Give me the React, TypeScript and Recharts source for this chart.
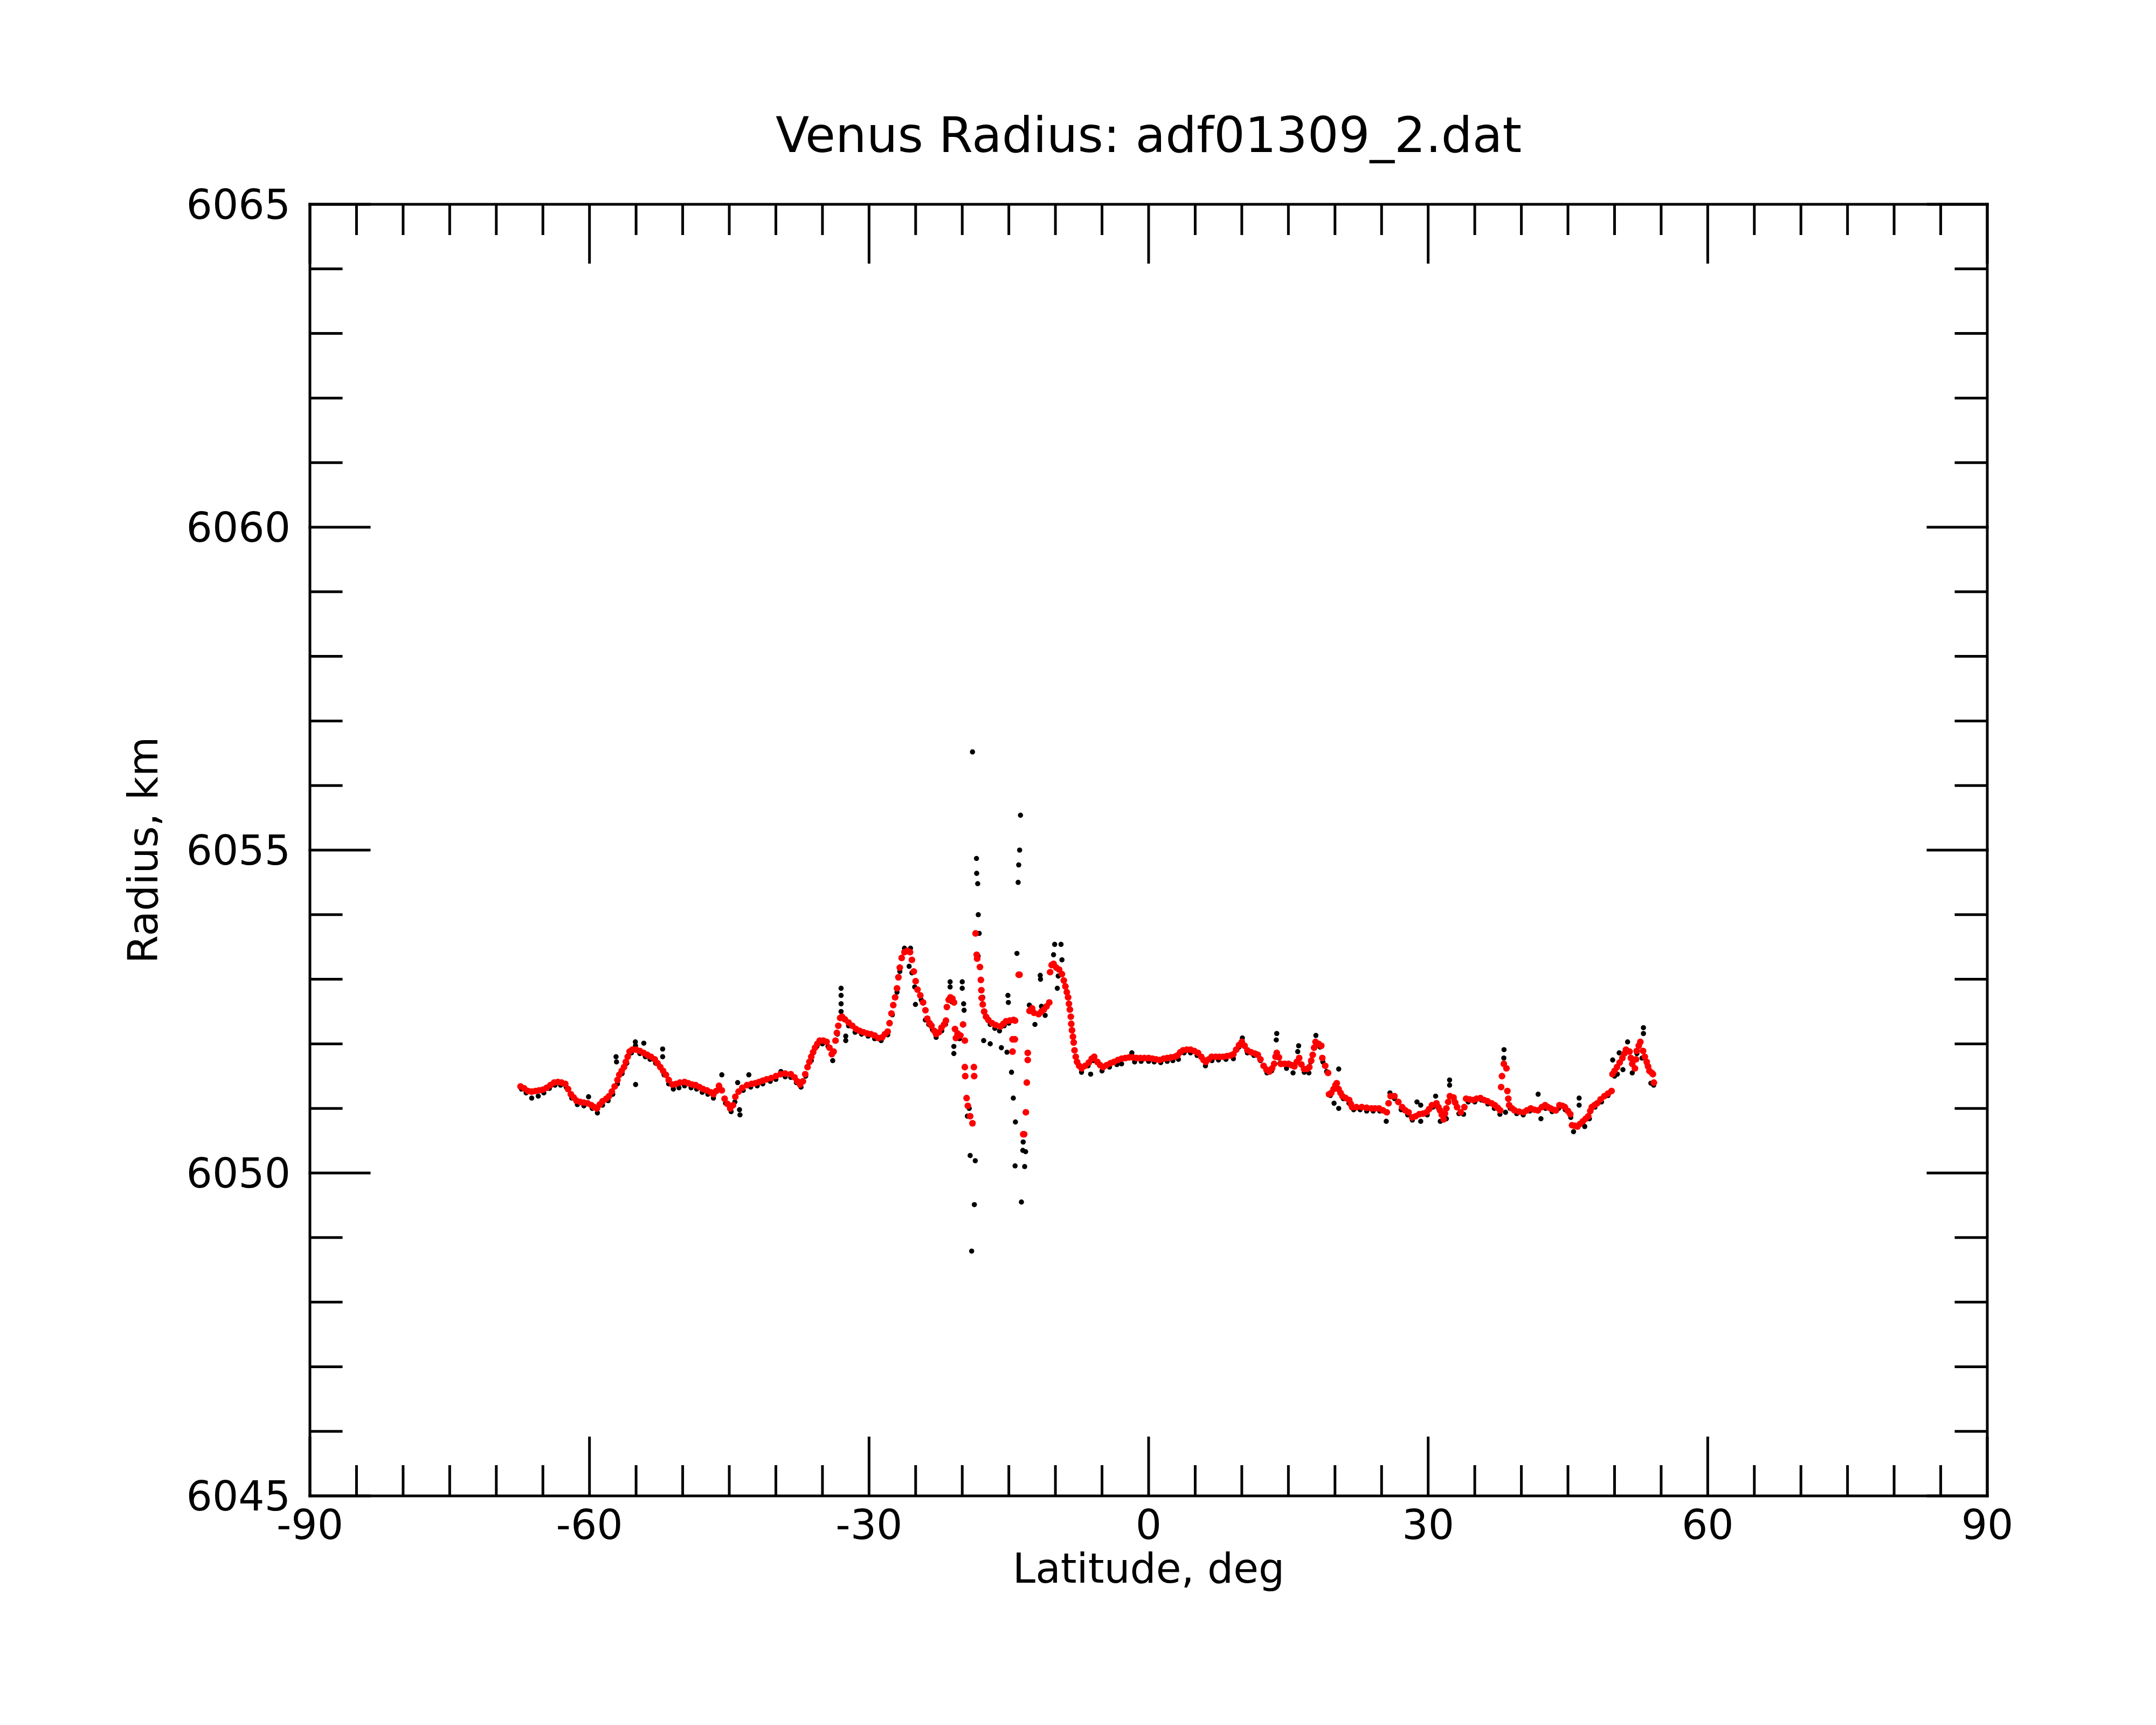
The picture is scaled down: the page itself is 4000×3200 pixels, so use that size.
import { ScatterChart, Scatter, XAxis, YAxis } from "recharts";

// Venus radius profile: [latitude deg, radius km]
const redTrace: [number, number][] = [
  [-67.4, 6051.34], [-67.0, 6051.31], [-66.6, 6051.27], [-66.2, 6051.26], [-65.8, 6051.27], [-65.4, 6051.28],
  [-65.0, 6051.29], [-64.6, 6051.32], [-64.2, 6051.36], [-63.8, 6051.4], [-63.4, 6051.41], [-63.0, 6051.4],
  [-62.6, 6051.38], [-62.3, 6051.3], [-62.0, 6051.22], [-61.7, 6051.17], [-61.4, 6051.12], [-61.0, 6051.1],
  [-60.6, 6051.09], [-60.2, 6051.08], [-59.8, 6051.05], [-59.5, 6051.02], [-59.2, 6051.0], [-58.9, 6051.06],
  [-58.6, 6051.11], [-58.2, 6051.15], [-57.9, 6051.19], [-57.6, 6051.26], [-57.3, 6051.34], [-57.0, 6051.44],
  [-56.8, 6051.52], [-56.55, 6051.58], [-56.3, 6051.64], [-56.1, 6051.72], [-55.9, 6051.8], [-55.7, 6051.88],
  [-55.4, 6051.91], [-55.0, 6051.91], [-54.6, 6051.89], [-54.2, 6051.86], [-53.8, 6051.83], [-53.4, 6051.8],
  [-53.0, 6051.76], [-52.7, 6051.7], [-52.4, 6051.64], [-52.1, 6051.58], [-51.8, 6051.52], [-51.5, 6051.44],
  [-51.1, 6051.37], [-50.7, 6051.38], [-50.3, 6051.4], [-49.8, 6051.41], [-49.4, 6051.39], [-49.0, 6051.37],
  [-48.6, 6051.36], [-48.2, 6051.33], [-47.8, 6051.3], [-47.4, 6051.28], [-47.0, 6051.25], [-46.7, 6051.22],
  [-46.4, 6051.27], [-46.1, 6051.35], [-45.8, 6051.28], [-45.5, 6051.15], [-45.2, 6051.07], [-44.9, 6051.0],
  [-44.6, 6051.05], [-44.35, 6051.18], [-44.0, 6051.26], [-43.6, 6051.32], [-43.1, 6051.36], [-42.6, 6051.38],
  [-42.2, 6051.39], [-41.8, 6051.41], [-41.4, 6051.43], [-41.0, 6051.45], [-40.5, 6051.47], [-40.0, 6051.5],
  [-39.5, 6051.53], [-39.0, 6051.54], [-38.4, 6051.53], [-38.0, 6051.48], [-37.7, 6051.42], [-37.4, 6051.37],
  [-37.1, 6051.42], [-36.85, 6051.53], [-36.6, 6051.64], [-36.4, 6051.72], [-36.2, 6051.8], [-36.0, 6051.87],
  [-35.8, 6051.94], [-35.55, 6052.0], [-35.3, 6052.05], [-34.9, 6052.05], [-34.55, 6052.03], [-34.25, 6051.94],
  [-34.0, 6051.84], [-33.8, 6051.88], [-33.6, 6052.05], [-33.45, 6052.17], [-33.3, 6052.28], [-33.1, 6052.4],
  [-32.9, 6052.42], [-32.6, 6052.38], [-32.2, 6052.33], [-31.8, 6052.28], [-31.4, 6052.23], [-31.0, 6052.2],
  [-30.6, 6052.18], [-30.2, 6052.16], [-29.8, 6052.15], [-29.4, 6052.13], [-29.0, 6052.09], [-28.6, 6052.1],
  [-28.3, 6052.15], [-28.0, 6052.19], [-27.8, 6052.32], [-27.6, 6052.47], [-27.4, 6052.6], [-27.2, 6052.72],
  [-27.0, 6052.86], [-26.85, 6053.03], [-26.7, 6053.18], [-26.5, 6053.33], [-26.2, 6053.42], [-25.9, 6053.44],
  [-25.6, 6053.42], [-25.4, 6053.3], [-25.2, 6053.12], [-25.0, 6052.97], [-24.8, 6052.84], [-24.5, 6052.75],
  [-24.2, 6052.64], [-23.95, 6052.52], [-23.75, 6052.39], [-23.5, 6052.32], [-23.3, 6052.28], [-23.0, 6052.2],
  [-22.8, 6052.15], [-22.5, 6052.18], [-22.23, 6052.25], [-21.95, 6052.3], [-21.75, 6052.36], [-21.65, 6052.57],
  [-21.45, 6052.68], [-21.27, 6052.72], [-21.05, 6052.7], [-20.88, 6052.64], [-20.78, 6052.23], [-20.68, 6052.09],
  [-20.5, 6052.16], [-20.2, 6052.13], [-19.91, 6052.3], [-19.72, 6052.05], [-19.72, 6051.64], [-19.68, 6051.5],
  [-19.53, 6051.16], [-19.4, 6051.04], [-19.15, 6050.88], [-18.9, 6050.77], [-18.75, 6051.64], [-18.72, 6051.5],
  [-18.57, 6053.71], [-18.45, 6053.38], [-18.4, 6053.32], [-18.1, 6053.19], [-18.0, 6052.99], [-17.95, 6052.83],
  [-17.9, 6052.71], [-17.8, 6052.61], [-17.65, 6052.5], [-17.45, 6052.42], [-17.2, 6052.37], [-16.8, 6052.32],
  [-16.4, 6052.29], [-15.9, 6052.27], [-15.6, 6052.31], [-15.3, 6052.35], [-14.9, 6052.36], [-14.5, 6052.37],
  [-14.33, 6052.36], [-14.6, 6052.07], [-14.35, 6052.07], [-14.6, 6051.88], [-13.94, 6053.07], [-13.85, 6053.07],
  [-12.97, 6051.86], [-12.97, 6051.75], [-13.07, 6051.4], [-13.17, 6050.94], [-13.46, 6050.6], [-13.35, 6050.6],
  [-12.78, 6052.51], [-12.5, 6052.55], [-12.3, 6052.48], [-11.8, 6052.46], [-11.5, 6052.5], [-11.24, 6052.53],
  [-10.95, 6052.58], [-10.66, 6052.64], [-10.57, 6053.11], [-10.4, 6053.22], [-10.2, 6053.24], [-9.9, 6053.18],
  [-9.6, 6053.15], [-9.3, 6053.08], [-9.1, 6052.98], [-8.93, 6052.89], [-8.78, 6052.8], [-8.64, 6052.72],
  [-8.55, 6052.62], [-8.45, 6052.53], [-8.35, 6052.42], [-8.3, 6052.31], [-8.22, 6052.21], [-8.12, 6052.11],
  [-8.04, 6052.02], [-7.95, 6051.9], [-7.82, 6051.8], [-7.68, 6051.72], [-7.45, 6051.66], [-7.19, 6051.62],
  [-6.8, 6051.66], [-6.42, 6051.71], [-6.1, 6051.77], [-5.84, 6051.8], [-5.5, 6051.72], [-5.2, 6051.67],
  [-4.88, 6051.64], [-4.5, 6051.67], [-4.1, 6051.7], [-3.72, 6051.72], [-3.3, 6051.75], [-2.9, 6051.77],
  [-2.5, 6051.78], [-2.1, 6051.79], [-1.7, 6051.79], [-1.3, 6051.78], [-0.89, 6051.78], [-0.45, 6051.78],
  [0.0, 6051.78], [0.4, 6051.77], [0.8, 6051.76], [1.18, 6051.75], [1.6, 6051.77], [2.0, 6051.78],
  [2.4, 6051.79], [2.8, 6051.8], [3.1, 6051.82], [3.4, 6051.87], [3.7, 6051.9], [4.1, 6051.91],
  [4.5, 6051.91], [4.9, 6051.89], [5.3, 6051.86], [5.65, 6051.8], [5.9, 6051.75], [6.14, 6051.72],
  [6.45, 6051.76], [6.76, 6051.8], [7.2, 6051.8], [7.6, 6051.8], [8.0, 6051.8], [8.4, 6051.81],
  [8.8, 6051.82], [9.1, 6051.84], [9.4, 6051.91], [9.7, 6051.98], [10.0, 6052.03], [10.3, 6051.97],
  [10.6, 6051.9], [11.0, 6051.87], [11.4, 6051.85], [11.72, 6051.83], [12.0, 6051.76], [12.34, 6051.66],
  [12.65, 6051.6], [12.96, 6051.57], [13.25, 6051.62], [13.47, 6051.69], [13.62, 6051.8], [13.75, 6051.86],
  [13.99, 6051.79], [14.2, 6051.69], [14.6, 6051.69], [15.02, 6051.69], [15.35, 6051.67], [15.64, 6051.65],
  [15.9, 6051.72], [16.16, 6051.78], [16.4, 6051.68], [16.68, 6051.61], [17.0, 6051.61], [17.25, 6051.64],
  [17.45, 6051.74], [17.61, 6051.83], [17.76, 6051.94], [17.91, 6052.03], [18.25, 6052.0], [18.53, 6051.97],
  [18.64, 6051.78], [18.95, 6051.66], [19.26, 6051.55], [19.36, 6051.22], [19.6, 6051.24], [19.85, 6051.3],
  [20.05, 6051.36], [20.19, 6051.39], [20.39, 6051.3], [20.6, 6051.24], [20.8, 6051.19], [21.15, 6051.16],
  [21.53, 6051.13], [21.7, 6051.07], [21.84, 6051.02], [22.3, 6051.02], [22.87, 6051.02], [23.4, 6051.01],
  [23.91, 6051.0], [24.3, 6051.0], [24.73, 6051.0], [25.15, 6050.97], [25.56, 6050.94], [25.75, 6051.08],
  [25.97, 6051.19], [26.38, 6051.19], [26.8, 6051.1], [27.21, 6051.02], [27.55, 6050.97], [27.9, 6050.94],
  [28.28, 6050.86], [28.66, 6050.88], [29.05, 6050.91], [29.45, 6050.92], [29.83, 6050.94], [30.1, 6050.99],
  [30.41, 6051.05], [30.89, 6051.08], [31.1, 6051.02], [31.27, 6050.97], [31.47, 6050.9], [31.66, 6050.83],
  [31.8, 6050.92], [31.95, 6051.0], [32.15, 6051.1], [32.33, 6051.19], [32.72, 6051.17], [32.9, 6051.09],
  [33.1, 6051.02], [33.49, 6050.94], [33.88, 6051.02], [34.07, 6051.15], [34.45, 6051.14], [34.84, 6051.13],
  [35.2, 6051.15], [35.61, 6051.16], [36.0, 6051.13], [36.38, 6051.11], [36.8, 6051.08], [37.15, 6051.05],
  [37.45, 6051.01], [37.73, 6050.97], [37.83, 6051.33], [37.92, 6051.5], [38.12, 6051.69], [38.4, 6051.62],
  [38.5, 6051.27], [38.6, 6051.15], [38.69, 6051.05], [39.0, 6051.0], [39.27, 6050.97], [39.75, 6050.95],
  [40.24, 6050.94], [40.6, 6050.97], [41.01, 6051.0], [41.4, 6050.98], [41.78, 6050.97], [42.2, 6051.02],
  [42.55, 6051.05], [42.85, 6051.02], [43.13, 6051.0], [43.45, 6050.98], [43.71, 6050.97], [44.09, 6051.05],
  [44.4, 6051.04], [44.67, 6051.02], [45.0, 6050.96], [45.25, 6050.91], [45.44, 6050.74], [45.75, 6050.73],
  [46.02, 6050.72], [46.3, 6050.76], [46.6, 6050.8], [46.9, 6050.84], [47.18, 6050.88], [47.4, 6050.96],
  [47.56, 6051.02], [47.85, 6051.05], [48.14, 6051.08], [48.5, 6051.14], [48.91, 6051.19], [49.3, 6051.23],
  [49.68, 6051.27], [49.78, 6051.53], [50.0, 6051.58], [50.26, 6051.64], [50.55, 6051.71], [50.84, 6051.78],
  [51.05, 6051.85], [51.23, 6051.91], [51.61, 6051.88], [51.75, 6051.78], [51.9, 6051.69], [52.19, 6051.62],
  [52.3, 6051.76], [52.38, 6051.89], [52.6, 6051.97], [52.77, 6052.03], [53.06, 6051.89], [53.25, 6051.8],
  [53.45, 6051.72], [53.6, 6051.65], [53.74, 6051.58], [54.0, 6051.55], [54.12, 6051.53], [54.22, 6051.4],
];

const blackTrace: [number, number][] = [
  [-67.3, 6051.3], [-66.8, 6051.24], [-66.2, 6051.16], [-65.5, 6051.19], [-64.9, 6051.24], [-64.3, 6051.31],
  [-63.7, 6051.36], [-63.1, 6051.36], [-62.5, 6051.33], [-61.9, 6051.16], [-61.3, 6051.06], [-60.6, 6051.04],
  [-60.1, 6051.18], [-59.7, 6051.0], [-59.15, 6050.93], [-58.6, 6051.05], [-58.0, 6051.12], [-57.5, 6051.22],
  [-57.15, 6051.8], [-57.1, 6051.72], [-57.0, 6051.38], [-56.5, 6051.54], [-56.0, 6051.7], [-55.5, 6051.86],
  [-55.08, 6052.03], [-55.06, 6051.97], [-55.05, 6051.37], [-54.6, 6051.85], [-54.17, 6052.01], [-54.0, 6051.8],
  [-53.5, 6051.76], [-52.9, 6051.7], [-52.15, 6051.92], [-52.15, 6051.8], [-52.0, 6051.52], [-51.5, 6051.38],
  [-51.0, 6051.3], [-50.4, 6051.32], [-49.8, 6051.35], [-49.1, 6051.32], [-48.5, 6051.3], [-47.9, 6051.25],
  [-47.3, 6051.22], [-46.7, 6051.16], [-46.1, 6051.3], [-45.8, 6051.52], [-45.4, 6051.08], [-44.8, 6050.95],
  [-44.4, 6051.1], [-44.1, 6051.4], [-43.9, 6050.98], [-43.85, 6050.9], [-43.5, 6051.28], [-42.9, 6051.52],
  [-42.7, 6051.33], [-42.0, 6051.35], [-41.4, 6051.38], [-40.6, 6051.42], [-40.0, 6051.45], [-39.46, 6051.57],
  [-39.0, 6051.49], [-38.4, 6051.48], [-37.8, 6051.4], [-37.3, 6051.33], [-36.8, 6051.5], [-36.2, 6051.74],
  [-35.6, 6051.96], [-35.0, 6052.0], [-34.4, 6051.96], [-33.9, 6051.74], [-33.4, 6052.15], [-33.0, 6052.5],
  [-33.0, 6052.62], [-33.0, 6052.75], [-33.0, 6052.86], [-32.5, 6052.12], [-32.5, 6052.05], [-32.2, 6052.28],
  [-31.5, 6052.18], [-30.8, 6052.15], [-30.1, 6052.12], [-29.4, 6052.08], [-28.7, 6052.05], [-28.0, 6052.14],
  [-27.5, 6052.45], [-27.0, 6052.8], [-26.7, 6053.12], [-26.2, 6053.48], [-25.55, 6053.48], [-25.7, 6053.2],
  [-25.4, 6053.1], [-25.1, 6052.88], [-25.02, 6052.61], [-24.4, 6052.68], [-23.96, 6052.37], [-23.6, 6052.3],
  [-23.2, 6052.22], [-22.8, 6052.1], [-22.2, 6052.2], [-21.8, 6052.3], [-21.3, 6052.96], [-21.3, 6052.88],
  [-21.1, 6052.65], [-20.9, 6051.96], [-20.9, 6051.85], [-20.6, 6052.12], [-20.3, 6052.08], [-20.0, 6052.96],
  [-20.0, 6052.86], [-19.85, 6052.62], [-19.8, 6052.52], [-19.45, 6050.88], [-19.25, 6051.0], [-17.99, 6052.71],
  [-17.8, 6052.72], [-17.5, 6052.42], [-17.0, 6052.3], [-16.5, 6052.24], [-16.0, 6052.2], [-15.5, 6052.28],
  [-15.0, 6052.32], [-17.7, 6052.05], [-17.0, 6052.0], [-15.8, 6051.94], [-15.2, 6051.87], [-15.1, 6052.75],
  [-15.05, 6052.64], [-12.8, 6052.6], [-12.2, 6052.3], [-11.63, 6053.06], [-11.6, 6053.0], [-11.5, 6052.58],
  [-11.1, 6052.44], [-10.08, 6053.54], [-9.4, 6053.54], [-10.2, 6053.38], [-9.3, 6053.3], [-9.7, 6053.05],
  [-9.8, 6052.86], [-8.3, 6052.3], [-7.2, 6051.56], [-6.5, 6051.66], [-6.22, 6051.53], [-5.9, 6051.74],
  [-5.0, 6051.58], [-4.2, 6051.64], [-3.4, 6051.68], [-2.9, 6051.69], [-1.8, 6051.86], [-1.5, 6051.72],
  [-0.8, 6051.73], [0.0, 6051.73], [0.6, 6051.72], [1.3, 6051.71], [2.0, 6051.73], [2.6, 6051.74],
  [3.2, 6051.76], [3.8, 6051.86], [4.5, 6051.86], [5.2, 6051.82], [6.1, 6051.66], [6.8, 6051.74],
  [7.5, 6051.75], [8.3, 6051.76], [9.1, 6051.77], [9.7, 6051.95], [10.06, 6052.09], [10.6, 6051.86],
  [11.3, 6051.82], [12.0, 6051.74], [12.7, 6051.55], [13.2, 6051.58], [13.7, 6052.06], [13.75, 6052.16],
  [14.1, 6051.7], [14.8, 6051.62], [15.5, 6051.55], [16.0, 6051.88], [16.1, 6051.97], [16.7, 6051.56],
  [17.2, 6051.55], [17.4, 6051.72], [17.95, 6052.13], [18.4, 6051.95], [18.7, 6051.72], [19.1, 6051.57],
  [19.5, 6051.2], [19.9, 6051.08], [20.4, 6051.61], [20.4, 6051.0], [20.9, 6051.15], [21.5, 6051.08],
  [22.0, 6050.98], [22.7, 6050.98], [23.4, 6050.96], [24.1, 6050.96], [24.8, 6050.96], [25.5, 6050.8],
  [25.9, 6051.24], [26.4, 6051.15], [27.1, 6050.98], [27.8, 6050.9], [28.3, 6050.82], [28.8, 6051.1],
  [29.2, 6051.05], [29.2, 6050.8], [29.9, 6050.9], [30.5, 6051.02], [30.8, 6051.19], [31.3, 6050.8],
  [31.95, 6050.84], [32.3, 6051.44], [32.3, 6051.36], [32.8, 6051.13], [33.3, 6050.92], [33.8, 6050.91],
  [34.3, 6051.1], [35.0, 6051.1], [35.7, 6051.13], [36.4, 6051.07], [37.1, 6051.0], [37.7, 6050.91],
  [38.14, 6051.91], [38.12, 6051.78], [38.3, 6050.94], [38.8, 6051.0], [39.5, 6050.92], [40.2, 6050.9],
  [40.9, 6050.96], [41.8, 6051.22], [42.1, 6050.84], [42.6, 6051.0], [43.3, 6050.95], [44.0, 6051.0],
  [44.7, 6050.98], [45.3, 6050.86], [45.6, 6050.64], [46.2, 6051.16], [46.2, 6051.05], [46.8, 6050.72],
  [47.3, 6050.84], [47.9, 6051.02], [48.6, 6051.1], [49.3, 6051.2], [49.8, 6051.75], [50.0, 6051.5],
  [50.3, 6051.53], [50.5, 6051.86], [50.9, 6051.6], [51.4, 6052.03], [51.9, 6051.55], [52.4, 6051.85],
  [52.95, 6051.78], [53.1, 6052.25], [53.1, 6052.16], [53.5, 6051.68], [53.9, 6051.39], [54.2, 6051.36],
];

// isolated raw points around the two spikes near -19 and -14 deg
const blackSpikes: [number, number][] = [
  [-18.9, 6056.52], [-18.47, 6054.87], [-18.45, 6054.64], [-18.34, 6054.48], [-18.28, 6054.0], [-18.18, 6053.71],
  [-18.3, 6053.36], [-19.15, 6050.27], [-18.6, 6050.19], [-18.7, 6049.51], [-18.99, 6048.79],
  [-13.75, 6055.54], [-13.84, 6055.0], [-13.94, 6054.77], [-14.0, 6054.5], [-14.13, 6053.4], [-14.71, 6051.56],
  [-14.52, 6051.16], [-14.29, 6050.79], [-13.46, 6050.48], [-13.5, 6050.35], [-13.2, 6050.33], [-14.33, 6050.11],
  [-13.3, 6050.1], [-13.65, 6049.55],
];

const X_MAJOR = [-90, -60, -30, 0, 30, 60, 90];
const X_TICKS = [-90, -85, -80, -75, -70, -65, -60, -55, -50, -45, -40, -35, -30, -25, -20, -15, -10, -5,
  0, 5, 10, 15, 20, 25, 30, 35, 40, 45, 50, 55, 60, 65, 70, 75, 80, 85, 90];
const Y_MAJOR = [6045, 6050, 6055, 6060, 6065];
const Y_MINOR = [6046, 6047, 6048, 6049, 6051, 6052, 6053, 6054, 6056, 6057, 6058, 6059,
  6061, 6062, 6063, 6064];

const W = 4000;
const H = 3200;
const FONT = "'DejaVu Sans', Verdana, sans-serif";
const PLOT_TOP = 379;
const PLOT_BOTTOM = 2775;
const LABEL_W = 300;
const LABEL_H = 200;
const MAJOR_LEN = 110;
const MINOR_LEN = 57;
const LINE = { stroke: "#000", strokeWidth: 5, strokeLinecap: "square" as const };

const toPts = (a: [number, number][]) => a.map(([lat, r]) => ({ lat, r }));
const blackData = toPts([...blackTrace, ...blackSpikes]);
const redData = toPts(redTrace);

const noLabel = () => <g />;
const dot = (r: number, fill: string) => (p: any) => <circle cx={p.cx} cy={p.cy} r={r} fill={fill} />;

// bottom-axis tick: label for majors plus inward marks on bottom and top edges
const XTick = (p: any) => {
  const v = p.payload?.value;
  const major = X_MAJOR.includes(v);
  const len = major ? MAJOR_LEN : MINOR_LEN;
  return (
    <g>
      <line x1={p.x} x2={p.x} y1={PLOT_BOTTOM} y2={PLOT_BOTTOM - len} stroke="#000" strokeWidth={5} />
      <line x1={p.x} x2={p.x} y1={PLOT_TOP} y2={PLOT_TOP + len} stroke="#000" strokeWidth={5} />
      {major && (
        <text x={p.x} y={p.y} dy="0.71em" textAnchor="middle" fontSize={76} fontFamily={FONT} fill="#000">
          {v}
        </text>
      )}
    </g>
  );
};

const yFrames = [
  { id: "ylM", orientation: "left", ticks: Y_MAJOR, len: MAJOR_LEN, line: true },
  { id: "ylm", orientation: "left", ticks: Y_MINOR, len: MINOR_LEN, line: false },
  { id: "yrM", orientation: "right", ticks: Y_MAJOR, len: MAJOR_LEN, line: true },
  { id: "yrm", orientation: "right", ticks: Y_MINOR, len: MINOR_LEN, line: false },
];

export default function App() {
  return (
    <div style={{ position: "absolute", left: 0, top: 0, width: W, height: H, background: "#fff" }}>
      <ScatterChart
        width={W}
        height={H}
        margin={{ top: PLOT_TOP, right: 313, bottom: H - PLOT_BOTTOM - LABEL_H, left: 575 - LABEL_W }}
      >
        <XAxis
          xAxisId="x"
          dataKey="lat"
          type="number"
          domain={[-90, 90]}
          ticks={X_TICKS}
          interval={0}
          allowDataOverflow
          height={LABEL_H}
          axisLine={false}
          tickLine={false}
          tickSize={6}
          tickMargin={20}
          tick={XTick}
        />
        <YAxis
          yAxisId="y"
          dataKey="r"
          type="number"
          domain={[6045, 6065]}
          ticks={Y_MAJOR}
          interval={0}
          allowDataOverflow
          width={LABEL_W}
          axisLine={false}
          tickLine={false}
          tickSize={6}
          tickMargin={30}
          tick={{ fill: "#000", fontSize: 76, fontFamily: FONT }}
        />
        {["bottom", "top"].map((o) => (
          <XAxis
            key={o}
            xAxisId={"frame-" + o}
            type="number"
            domain={[-90, 90]}
            ticks={X_MAJOR}
            interval={0}
            allowDataOverflow
            orientation={o as "top" | "bottom"}
            mirror
            height={1}
            tick={noLabel}
            tickLine={false}
            axisLine={LINE}
          />
        ))}
        {yFrames.map((f) => (
          <YAxis
            key={f.id}
            yAxisId={f.id}
            type="number"
            domain={[6045, 6065]}
            ticks={f.ticks}
            interval={0}
            allowDataOverflow
            orientation={f.orientation as "left" | "right"}
            mirror
            width={1}
            tickSize={f.len}
            tick={noLabel}
            tickLine={LINE}
            axisLine={f.line ? LINE : false}
          />
        ))}
        <Scatter
          xAxisId="x"
          yAxisId="y"
          data={blackData}
          isAnimationActive={false}
          shape={dot(4.8, "#000")}
        />
        <Scatter
          xAxisId="x"
          yAxisId="y"
          data={redData}
          isAnimationActive={false}
          shape={dot(6.2, "#ff0000")}
        />
      </ScatterChart>
      <svg
        width={W}
        height={H}
        style={{ position: "absolute", left: 0, top: 0, pointerEvents: "none" }}
        fontFamily={FONT}
      >
        <text x={2131} y={282} textAnchor="middle" fontSize={91} fill="#000">
          Venus Radius: adf01309_2.dat
        </text>
        <text x={2131} y={2936} textAnchor="middle" fontSize={76} fill="#000">
          Latitude, deg
        </text>
        <text transform="translate(292,1577) rotate(-90)" textAnchor="middle" fontSize={76} fill="#000">
          Radius, km
        </text>
      </svg>
    </div>
  );
}
